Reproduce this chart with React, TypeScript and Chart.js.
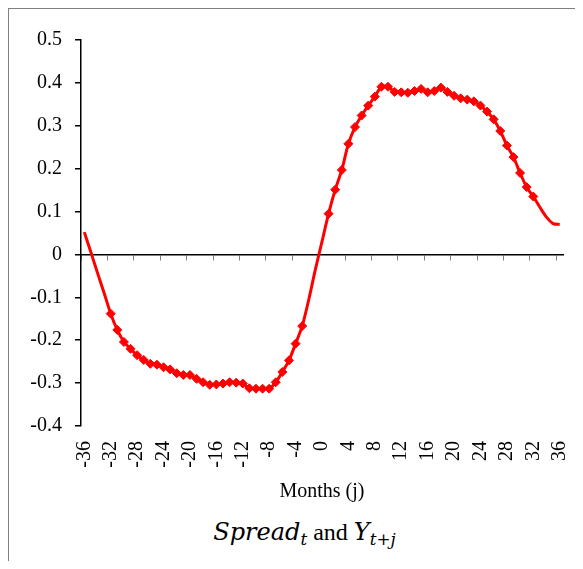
import React, { useEffect, useRef } from 'react';
import { Chart, registerables } from 'chart.js';

Chart.register(...registerables);

// Months relative to t (j)
const months: number[] = [
  -36, -35, -34, -33, -32, -31, -30, -29, -28, -27, -26, -25, -24, -23, -22, -21, -20, -19,
  -18, -17, -16, -15, -14, -13, -12, -11, -10, -9, -8, -7, -6, -5, -4, -3, -2, -1,
  0, 1, 2, 3, 4, 5, 6, 7, 8, 9, 10, 11, 12, 13, 14, 15, 16, 17,
  18, 19, 20, 21, 22, 23, 24, 25, 26, 27, 28, 29, 30, 31, 32, 33, 34, 35, 36,
];

// Correlation between Spread_t and Y_{t+j}
const correlations: number[] = [
  0.052, 0.005, -0.043, -0.09, -0.138, -0.176, -0.204, -0.22, -0.235, -0.246, -0.255, -0.257,
  -0.263, -0.268, -0.277, -0.281, -0.281, -0.29, -0.298, -0.304, -0.303, -0.301, -0.298, -0.299,
  -0.301, -0.312, -0.313, -0.313, -0.313, -0.298, -0.274, -0.247, -0.208, -0.167, -0.105, -0.035,
  0.03, 0.095, 0.151, 0.197, 0.258, 0.297, 0.324, 0.347, 0.368, 0.391, 0.391, 0.379,
  0.378, 0.377, 0.381, 0.386, 0.378, 0.381, 0.389, 0.379, 0.37, 0.364, 0.361, 0.357,
  0.347, 0.333, 0.315, 0.288, 0.254, 0.227, 0.19, 0.157, 0.135, 0.11, 0.087, 0.072, 0.07,
];

// Months marked with a diamond
const markedRanges: [number, number][] = [
  [-32, -3],
  [1, 32],
];

const yTicks = { min: -0.4, max: 0.5, step: 0.1 };
const xLabelEvery = 4;

export default function App() {
  const ref = useRef<HTMLCanvasElement>(null);

  useEffect(() => {
    document.documentElement.style.overflow = 'hidden';
    const font = { family: "'Liberation Serif', 'Times New Roman', serif", size: 20 };
    const labels = months.map(String);
    const radii = months.map((m) =>
      markedRanges.some(([a, b]) => m >= a && m <= b) ? 4.5 : 0
    );
    const chart = new Chart(ref.current!, {
      type: 'line',
      data: {
        labels,
        datasets: [
          {
            data: correlations,
            borderColor: '#ff0000',
            backgroundColor: '#ff0000',
            borderWidth: 3,
            tension: 0.3,
            fill: false,
            pointStyle: 'rectRot',
            pointRadius: radii,
            pointHoverRadius: radii,
            pointBorderWidth: 1,
            pointBackgroundColor: '#ff0000',
            pointBorderColor: '#ff0000',
            xAxisID: 'x',
            yAxisID: 'y',
          },
        ],
      },
      options: {
        animation: false,
        responsive: false,
        layout: { padding: { top: 31, right: 19, bottom: 0, left: 0 } },
        plugins: { legend: { display: false }, tooltip: { enabled: false } },
        scales: {
          x: {
            type: 'category',
            position: { y: 0 },
            offset: true,
            grid: {
              offset: true,
              drawOnChartArea: false,
              drawTicks: true,
              tickLength: 5,
              lineWidth: 1,
              color: (c: any) => (c.index % xLabelEvery === 0 ? '#808080' : 'rgba(0,0,0,0)'),
            },
            border: { display: true, color: '#000', width: 1.5 },
            ticks: { display: false, autoSkip: false },
          },
          x2: {
            type: 'category',
            axis: 'x',
            position: 'bottom',
            offset: true,
            grid: { display: false, drawTicks: false },
            border: { display: false },
            ticks: {
              autoSkip: false,
              maxRotation: 90,
              minRotation: 90,
              padding: 15,
              color: '#000',
              font,
              callback: (_v: any, i: number) => (i % xLabelEvery === 0 ? labels[i] : ''),
            },
            title: { display: true, text: 'Months (j)', color: '#000', font, padding: { top: 0, bottom: 2 } },
            afterFit: (s: any) => {
              s.height = 80;
              s.paddingLeft = 0;
              s.paddingRight = 0;
            },
          },
          y: {
            min: yTicks.min,
            max: yTicks.max,
            ticks: { stepSize: yTicks.step, color: '#000', font, padding: 13 },
            grid: { drawOnChartArea: false, color: '#000', tickLength: 6, lineWidth: 1.5 },
            border: { display: true, color: '#000', width: 1.5 },
            afterFit: (s: any) => {
              s.width = 73;
            },
          },
        },
      } as any,
    });
    return () => chart.destroy();
  }, []);

  const mathFont = "'DejaVu Serif', serif";
  const subStyle: React.CSSProperties = {
    fontSize: '0.7em',
    verticalAlign: '-0.3em',
    lineHeight: 0,
    fontFamily: mathFont,
    fontStyle: 'italic',
  };

  return (
    <div
      style={{
        width: 574,
        height: 552,
        borderLeft: '1px solid #808080',
        borderTop: '1px solid #808080',
        overflow: 'hidden',
        background: '#fff',
      }}
    >
      <canvas ref={ref} width={574} height={497} style={{ display: 'block', marginLeft: -1 }} />
      <div
        style={{
          marginTop: 11,
          paddingLeft: 17,
          textAlign: 'center',
          lineHeight: '30px',
          fontSize: 24,
          fontFamily: "'Liberation Serif', 'Times New Roman', serif",
          color: '#000',
          whiteSpace: 'nowrap',
        }}
      >
        <span style={{ fontFamily: mathFont, fontStyle: 'italic' }}>Spread</span>
        <sub style={subStyle}>t</sub>
        {' and '}
        <span style={{ fontFamily: mathFont, fontStyle: 'italic' }}>Y</span>
        <sub style={subStyle}>
          t<span style={{ fontStyle: 'normal' }}>+</span>j
        </sub>
      </div>
    </div>
  );
}
